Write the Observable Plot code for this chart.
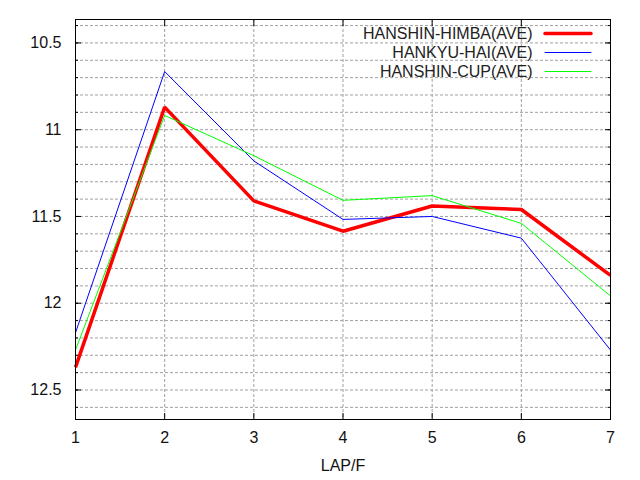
<!DOCTYPE html>
<html>
<head>
<meta charset="utf-8">
<script src="https://cdn.jsdelivr.net/npm/d3@7"></script>
<script src="https://cdn.jsdelivr.net/npm/@observablehq/plot@0.6"></script>
<style>
  html, body { margin: 0; padding: 0; background: #fff; }
  #chart { width: 640px; height: 480px; }
</style>
</head>
<body>
<div id="chart"></div>
<script>
// ---- data ----
const laps = [1, 2, 3, 4, 5, 6, 7];
const himba = [12.37, 10.87, 11.41, 11.585, 11.44, 11.46, 11.84];
const hai   = [12.17, 10.665, 11.18, 11.517, 11.50, 11.625, 12.27];
const cup   = [12.27, 10.918, 11.15, 11.407, 11.38, 11.54, 11.958];
const seriesNames = ["HANSHIN-HIMBA(AVE)", "HANKYU-HAI(AVE)", "HANSHIN-CUP(AVE)"];
const xTicks = [1, 2, 3, 4, 5, 6, 7];
const yMajorTicks = [10.5, 11, 11.5, 12, 12.5];
const yMinorTicks = [10.4, 10.5, 10.6, 10.7, 10.8, 10.9, 11.0, 11.1, 11.2, 11.3, 11.4, 11.5,
                     11.6, 11.7, 11.8, 11.9, 12.0, 12.1, 12.2, 12.3, 12.4, 12.5, 12.6];
const xLabel = "LAP/F";

// ---- styles ----
const colors = ["#ff0000", "#0000ff", "#00ff00"];
const widths = [3.5, 1, 1];
const seriesValues = [himba, hai, cup];

const rows = [];
seriesValues.forEach((vals, s) => {
  vals.forEach((v, i) => rows.push({series: seriesNames[s], lap: laps[i], t: v}));
});

const lineShape = { draw(ctx, l) { ctx.moveTo(0, 0); ctx.lineTo(0, -l); } };
const gridStyle = {stroke: "#a0a0a0", strokeWidth: 1, strokeDasharray: "3,2"};

const marks = [
  Plot.ruleY(yMinorTicks, {y: d => d, ...gridStyle}),
  Plot.ruleX(xTicks.slice(1, -1), {x: d => d, ...gridStyle}),
  // ticks (inward)
  Plot.axisY({ticks: yMajorTicks, anchor: "left", tickSize: -6, tickFormat: () => "", label: null, stroke: "#000"}),
  Plot.axisY({ticks: yMinorTicks, anchor: "left", tickSize: -3, tickFormat: () => "", label: null, stroke: "#000"}),
  Plot.axisY({ticks: yMajorTicks, anchor: "right", tickSize: -6, tickFormat: () => "", label: null, stroke: "#000"}),
  Plot.axisY({ticks: yMinorTicks, anchor: "right", tickSize: -3, tickFormat: () => "", label: null, stroke: "#000"}),
  Plot.axisX({ticks: xTicks, anchor: "bottom", tickSize: -6, tickFormat: () => "", label: null, stroke: "#000"}),
  Plot.axisX({ticks: xTicks, anchor: "top", tickSize: -6, tickFormat: () => "", label: null, stroke: "#000"}),
  // tick labels
  Plot.axisY({ticks: yMajorTicks, anchor: "left", tickSize: 0, tickPadding: 14, tickFormat: d => String(d), label: null, fill: "#111"}),
  Plot.axisX({ticks: xTicks, anchor: "bottom", tickSize: 0, tickPadding: 12, tickFormat: d => String(d), label: null, fill: "#111"}),
  Plot.text([xLabel], {text: d => d, frameAnchor: "bottom", dy: 46, lineAnchor: "middle", fill: "#111"}),
];

seriesNames.forEach((name, s) => {
  marks.push(Plot.line(rows.filter(r => r.series === name), {
    x: "lap", y: "t", stroke: colors[s], strokeWidth: widths[s], strokeLinejoin: "miter", strokeLinecap: "butt"
  }));
});

// legend (inside top-right, gnuplot style)
seriesNames.forEach((name, s) => {
  marks.push(Plot.text([name], {text: d => d, frameAnchor: "top-right", textAnchor: "end", lineAnchor: "middle",
    dx: -78, dy: 14 + s * 19, fill: "#222"}));
  marks.push(Plot.vector([name], {frameAnchor: "top-right", dx: -65.5, dy: 14 + s * 19, length: 46, rotate: 90,
    anchor: "start", shape: lineShape, stroke: colors[s], strokeWidth: widths[s]}));
});

marks.push(Plot.frame({stroke: "#000", strokeWidth: 1}));

const chart = Plot.plot({
  width: 640,
  height: 480,
  marginLeft: 75,
  marginRight: 30,
  marginTop: 19,
  marginBottom: 61,
  style: {fontFamily: "'Liberation Sans', Arial, sans-serif", fontSize: "16px", background: "#fff", overflow: "visible"},
  x: {domain: [1, 7], axis: null},
  y: {domain: [10.365, 12.67], reverse: true, axis: null},
  marks
});
document.getElementById("chart").appendChild(chart);
</script>
</body>
</html>
